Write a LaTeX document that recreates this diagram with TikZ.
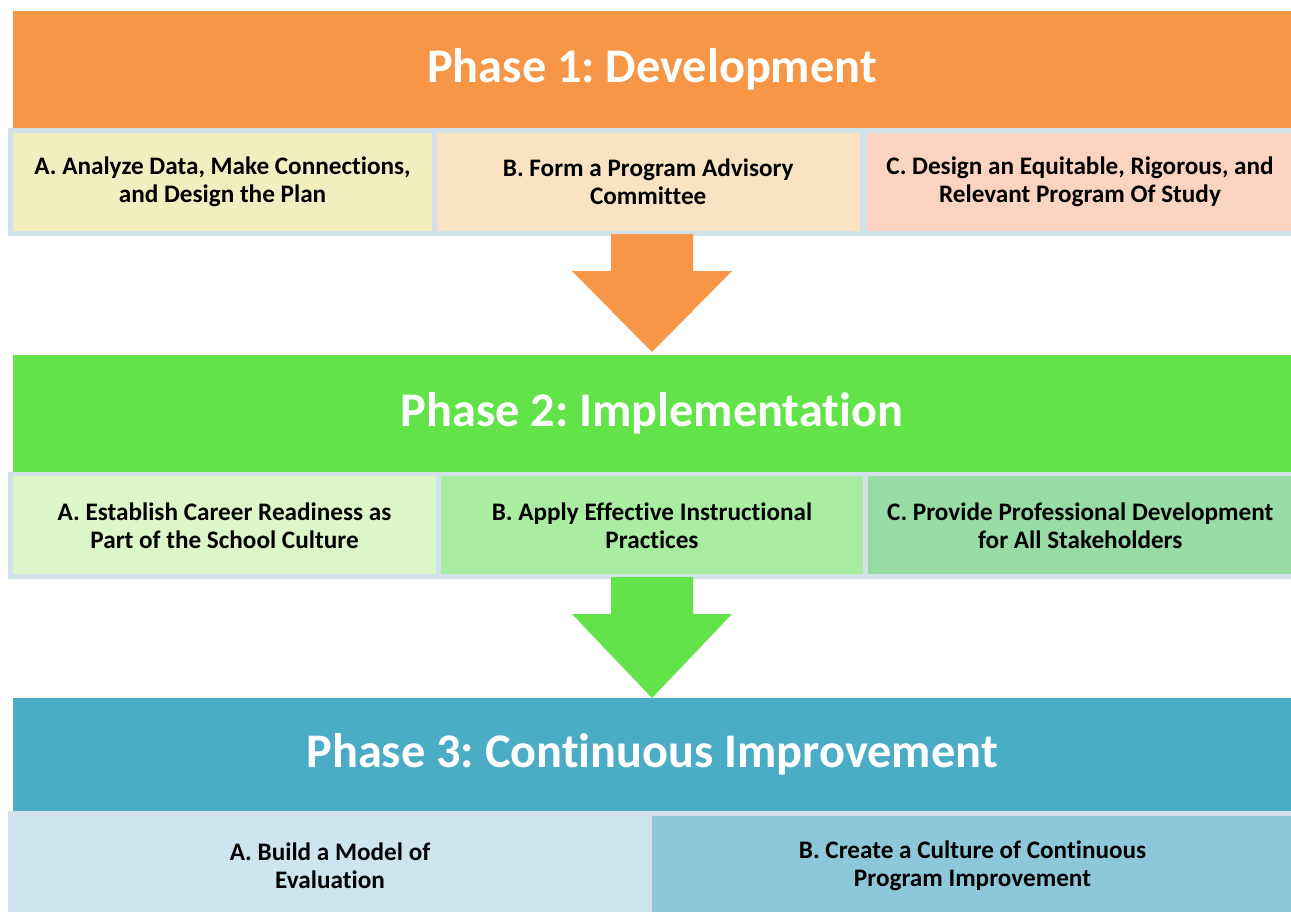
\documentclass[tikz,border=0pt]{standalone}
\usepackage{fontspec}
\setmainfont{Carlito}[Ligatures=NoCommon]
\frenchspacing
\definecolor{orangeH}{HTML}{F79646}
\definecolor{greenH}{HTML}{62E34A}
\definecolor{blueH}{HTML}{4BACC6}
\definecolor{bordC}{HTML}{D2E2E8}
\definecolor{oA}{HTML}{F1EEC0}
\definecolor{oB}{HTML}{F9E3C3}
\definecolor{oC}{HTML}{FAD4C0}
\definecolor{gA}{HTML}{DBF6C9}
\definecolor{gB}{HTML}{A9EEA0}
\definecolor{gC}{HTML}{97DBA5}
\definecolor{bA}{HTML}{CDE5EE}
\definecolor{bB}{HTML}{8DC7DA}
\tikzset{
  header/.style={inner sep=0pt, minimum width=1278pt, text=white,
    font=\fontsize{48.3}{56}\selectfont\bfseries},
  subbox/.style={draw=bordC, line width=4.5pt, inner sep=0pt, align=center,
    font=\fontsize{25.2}{28}\selectfont\bfseries, text=black}
}
\begin{document}
\begin{tikzpicture}[x=1pt,y=-1pt]
\useasboundingbox (0,0) rectangle (1291,911);
\fill[white] (0,0) rectangle (1291,911);
% Phase 1
\node[header, fill=orangeH, minimum height=117pt] (h1) at (652,69.5) {Phase 1: Development};
\node[subbox, fill=oA, minimum width=424pt, minimum height=103pt] (p1a) at (222.5,182) {A. Analyze Data, Make Connections,\\and Design the Plan};
\node[subbox, fill=oB, minimum width=427.5pt, minimum height=103pt] (p1b) at (648.25,182) {B. Form a Program Advisory\\Committee};
\node[subbox, fill=oC, minimum width=430pt, minimum height=103pt] (p1c) at (1080,182) {C. Design an Equitable, Rigorous, and\\Relevant Program Of Study};
% Phase 2
\node[header, fill=greenH, minimum height=117pt] (h2) at (652,413.5) {Phase 2: Implementation};
\node[subbox, fill=gA, minimum width=428pt, minimum height=102.5pt] (p2a) at (224.5,525.25) {A. Establish Career Readiness as\\Part of the School Culture};
\node[subbox, fill=gB, minimum width=427pt, minimum height=102.5pt] (p2b) at (652,525.25) {B. Apply Effective Instructional\\Practices};
\node[subbox, fill=gC, minimum width=429.5pt, minimum height=102.5pt] (p2c) at (1080.25,525.25) {C. Provide Professional Development\\for All Stakeholders};
% Phase 3
\node[header, fill=blueH, minimum height=113pt] (h3) at (652,754.5) {Phase 3: Continuous Improvement};
\node[subbox, fill=bA, minimum width=640pt, minimum height=105pt] (p3a) at (330,866) {A. Build a Model of\\Evaluation};
\node[subbox, fill=bB, minimum width=645pt, minimum height=105pt] (p3b) at (972.5,866) {B. Create a Culture of Continuous\\Program Improvement};
% Arrows
\fill[orangeH] (611,234) -- (693,234) -- (693,271) -- (732,271) -- (652,352) -- (572,271) -- (611,271) -- cycle;
\fill[greenH] (611,577) -- (693,577) -- (693,614) -- (732,614) -- (652,698) -- (572,614) -- (611,614) -- cycle;
\end{tikzpicture}
\end{document}
